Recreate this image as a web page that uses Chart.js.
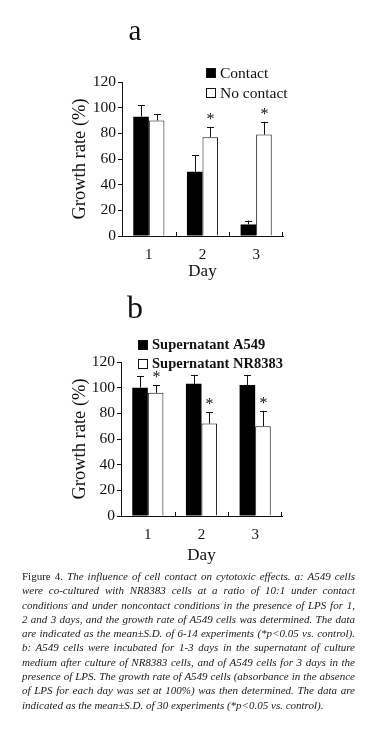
<!DOCTYPE html>
<html>
<head>
<meta charset="utf-8">
<script src="https://cdn.jsdelivr.net/npm/chart.js@4.4.1/dist/chart.umd.min.js"></script>
<style>
  html, body { margin: 0; padding: 0; background: #fff; }
  body { width: 378px; height: 731px; position: relative; overflow: hidden; }
  canvas { position: absolute; left: 0; }
  #capt {
    position: absolute; left: 22px; top: 569px; width: 333px;
    font-family: "Liberation Serif", "DejaVu Serif", serif;
    font-size: 11px; line-height: 14.3px; color: #1a1a1a; font-style: italic;
  }
  #capt span { display: block; white-space: nowrap; text-align: justify; text-align-last: justify; }
  #capt span.last { text-align-last: left; }
  #capt b { font-weight: normal; font-style: normal; }
</style>
</head>
<body>
<canvas id="chartA" width="378" height="290" style="top:0"></canvas>
<canvas id="chartB" width="378" height="280" style="top:290px"></canvas>
<div id="capt">
  <span><b>Figure 4.</b> The influence of cell contact on cytotoxic effects. a: A549 cells</span>
  <span>were co-cultured with NR8383 cells at a ratio of 10:1 under contact</span>
  <span>conditions and under noncontact conditions in the presence of LPS for 1,</span>
  <span>2 and 3 days, and the growth rate of A549 cells was determined. The data</span>
  <span>are indicated as the mean±S.D. of 6-14 experiments (*p&lt;0.05 vs. control).</span>
  <span>b: A549 cells were incubated for 1-3 days in the supernatant of culture</span>
  <span>medium after culture of NR8383 cells, and of A549 cells for 3 days in the</span>
  <span>presence of LPS. The growth rate of A549 cells (absorbance in the absence</span>
  <span>of LPS for each day was set at 100%) was then determined. The data are</span>
  <span class="last">indicated as the mean±S.D. of 30 experiments (*p&lt;0.05 vs. control).</span>
</div>
<script>
  'use strict';

  // ── Data ────────────────────────────────────────────────────
  const DAYS = ['1', '2', '3'];
  const Y_MIN = 0, Y_MAX = 120, Y_STEP = 20;

  // panel a
  const A_LABELS       = ['Contact', 'No contact'];
  const A_CONTACT      = [93, 50, 9];
  const A_CONTACT_SD   = [9, 13, 3];
  const A_NOCONTACT    = [90, 77, 79];
  const A_NOCONTACT_SD = [5, 8, 10];
  const A_NOCONTACT_SIG = [false, true, true];

  // panel b
  const B_LABELS   = ['Supernatant A549', 'Supernatant NR8383'];
  const B_A549     = [100, 103, 102];
  const B_A549_SD  = [9, 7, 8];
  const B_NR       = [96, 72, 70];
  const B_NR_SD    = [6, 9, 12];
  const B_NR_SIG   = [true, true, true];

  const SERIF = '"Liberation Serif", "DejaVu Serif", serif';
  const INK = '#111';
  Chart.defaults.font.family = SERIF;
  Chart.defaults.color = INK;

  // error bars (upper only) + stars + inward x ticks + legend + panel letter
  const decor = {
    id: 'decor',
    afterDatasetsDraw(chart, args, o) {
      const { ctx, chartArea: ca } = chart;
      const xs = chart.scales.x, ys = chart.scales.y;
      ctx.save();
      ctx.strokeStyle = INK;
      ctx.fillStyle = INK;
      ctx.lineWidth = 1;

      chart.data.datasets.forEach((ds, di) => {
        const meta = chart.getDatasetMeta(di);
        meta.data.forEach((bar, i) => {
          const x = Math.round(bar.x) + 0.5;
          const top = ys.getPixelForValue(ds.data[i] + ds.sd[i]);
          ctx.beginPath();
          ctx.moveTo(x, bar.y);
          ctx.lineTo(x, top);
          ctx.moveTo(x - 3.5, Math.round(top) + 0.5);
          ctx.lineTo(x + 3.5, Math.round(top) + 0.5);
          ctx.stroke();
          if (ds.sig && ds.sig[i]) {
            ctx.font = '16px ' + SERIF;
            ctx.textAlign = 'center';
            ctx.textBaseline = 'middle';
            ctx.fillText('*', x, top - 7);
          }
        });
      });

      // small inward ticks at category boundaries
      const n = chart.data.labels.length;
      ctx.beginPath();
      for (let i = 1; i <= n; i++) {
        const bx = i < n ? Math.round((xs.getPixelForValue(i - 1) + xs.getPixelForValue(i)) / 2) + 0.5
                         : Math.round(ca.right) - 0.5;
        ctx.moveTo(bx, ca.bottom);
        ctx.lineTo(bx, ca.bottom - 4);
      }
      ctx.stroke();

      // legend
      ctx.font = o.legendFont;
      ctx.textAlign = 'left';
      ctx.textBaseline = 'middle';
      chart.data.datasets.forEach((ds, di) => {
        const by = o.legendY + di * o.legendGap;
        ctx.fillStyle = ds.backgroundColor;
        ctx.fillRect(o.legendX, by, o.box, o.box);
        ctx.strokeRect(o.legendX + 0.5, by + 0.5, o.box - 1, o.box - 1);
        ctx.fillStyle = INK;
        ctx.fillText(ds.label, o.legendX + o.box + 4, by + o.box / 2 + 0.5);
      });

      // panel letter
      ctx.font = o.letterSize + 'px ' + SERIF;
      ctx.textAlign = 'center';
      ctx.textBaseline = 'alphabetic';
      ctx.fillText(o.letter, o.letterX, o.letterY);
      ctx.restore();
    }
  };

  function makeChart(id, labels, series, opts) {
    const H = opts.height;
    return new Chart(document.getElementById(id), {
      type: 'bar',
      data: {
        labels: DAYS,
        datasets: [
          { label: labels[0], data: series[0].v, sd: series[0].sd, sig: series[0].sig,
            backgroundColor: '#000', borderColor: INK, borderWidth: 0,
            categoryPercentage: 0.58, barPercentage: 1 },
          { label: labels[1], data: series[1].v, sd: series[1].sd, sig: series[1].sig,
            backgroundColor: '#fff', borderColor: INK, borderWidth: 1,
            categoryPercentage: 0.58, barPercentage: 1 },
        ]
      },
      options: {
        responsive: false, animation: false, devicePixelRatio: 1,
        layout: { padding: { left: 0, top: opts.top, right: 378 - opts.right, bottom: 0 } },
        scales: {
          x: {
            grid: { display: false, drawTicks: false },
            border: { display: true, color: INK, width: 1 },
            ticks: { font: { size: 15 }, padding: 10, color: INK },
            title: { display: true, text: 'Day', font: { size: 17 }, color: INK,
                     padding: { top: 0, bottom: opts.dayPad } },
            afterFit: s => { s.height = H - opts.bottom; }
          },
          y: {
            min: Y_MIN, max: Y_MAX,
            grid: { drawOnChartArea: false, tickLength: 4, color: INK },
            border: { display: true, color: INK, width: 1 },
            ticks: { stepSize: Y_STEP, font: { size: 15.5 }, padding: 2, color: INK },
            title: { display: true, text: 'Growth rate (%)', font: { size: 18.5 }, color: INK,
                     padding: { top: 69, bottom: 0 } },
            afterFit: s => { s.width = opts.left; }
          }
        },
        plugins: {
          legend: { display: false },
          tooltip: { enabled: false },
          decor: opts.decor
        }
      },
      plugins: [decor]
    });
  }

  makeChart('chartA', A_LABELS, [
    { v: A_CONTACT, sd: A_CONTACT_SD },
    { v: A_NOCONTACT, sd: A_NOCONTACT_SD, sig: A_NOCONTACT_SIG },
  ], {
    height: 290, left: 122, right: 283, top: 82, bottom: 236, dayPad: 8,
    decor: { letter: 'a', letterSize: 29, letterX: 135, letterY: 40,
             legendX: 206, legendY: 68, legendGap: 20, box: 10,
             legendFont: '15.5px ' + SERIF }
  });

  makeChart('chartB', B_LABELS, [
    { v: B_A549, sd: B_A549_SD },
    { v: B_NR, sd: B_NR_SD, sig: B_NR_SIG },
  ], {
    height: 280, left: 121, right: 282, top: 72, bottom: 226, dayPad: 4,
    decor: { letter: 'b', letterSize: 32, letterX: 135, letterY: 28,
             legendX: 138, legendY: 50, legendGap: 19, box: 10,
             legendFont: 'bold 14.5px ' + SERIF }
  });
</script>
</body>
</html>
